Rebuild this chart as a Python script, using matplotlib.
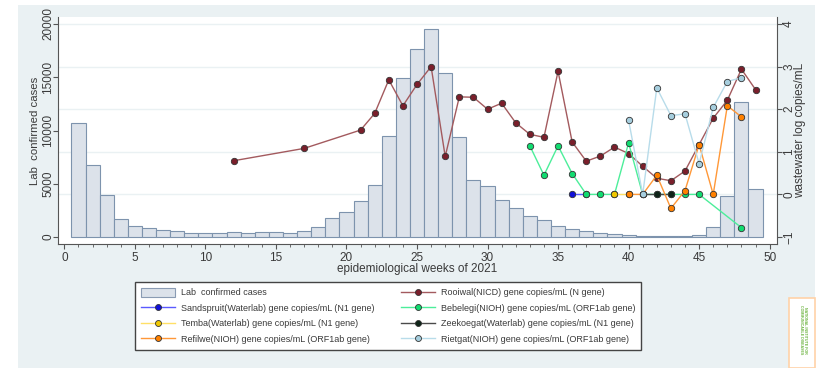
import matplotlib
matplotlib.use("Agg")
import matplotlib.pyplot as plt
from matplotlib import font_manager
from matplotlib.lines import Line2D
from matplotlib.patches import Rectangle, Patch

# ---- data -------------------------------------------------------------
weeks = list(range(1, 50))
cases = [10700, 6800, 3900, 1700, 1060, 850, 660, 560, 410, 380,
         380, 440, 380, 440, 470, 400, 530, 940, 1750, 2350,
         3350, 4850, 9480, 14900, 17650, 19550, 15400, 9400, 5320, 4760,
         3470, 2690, 1970, 1640, 1030, 720, 590, 410, 250, 160,
         95, 60, 60, 90, 160, 910, 3850, 12650, 4480]

rooiwal_wk = [12, 17, 21, 22, 23, 24, 25, 26, 27, 28, 29, 30, 31, 32, 33,
              34, 35, 36, 37, 38, 39, 40, 41, 42, 43, 44, 45, 46, 47, 48, 49]
rooiwal = [0.79, 1.08, 1.51, 1.90, 2.69, 2.08, 2.58, 3.00, 0.89, 2.29, 2.28,
           2.00, 2.14, 1.68, 1.41, 1.34, 2.89, 1.23, 0.78, 0.90, 1.11, 0.96,
           0.66, 0.38, 0.32, 0.55, 1.17, 1.79, 2.21, 2.94, 2.46]

sandspruit_wk = [36, 37]
sandspruit = [0.0, 0.0]

bebelegi_wk = [33, 34, 35, 36, 37, 38, 39, 40, 41, 42, 43, 44, 45, 48]
bebelegi = [1.14, 0.45, 1.14, 0.49, 0.0, 0.0, 0.0, 1.21, 0.0, 0.0, 0.0,
            0.0, 0.0, -0.78]

temba_wk = [39, 40]
temba = [0.0, 0.0]

zeekoegat_wk = [41, 42, 43]
zeekoegat = [0.0, 0.0, 0.0]

refilwe_wk = [40, 41, 42, 43, 44, 45, 46, 47, 48]
refilwe = [0.0, 0.0, 0.45, -0.33, 0.09, 1.17, 0.0, 2.08, 1.82]

rietgat_wk = [40, 41, 42, 43, 44, 45, 46, 47, 48]
rietgat = [1.74, 0.0, 2.50, 1.85, 1.89, 0.72, 2.04, 2.65, 2.74]

series = [
    ("Rooiwal(NICD) gene copies/mL (N gene)", rooiwal_wk, rooiwal,
     "#a35a5e", "#7a1f2b"),
    ("Sandspruit(Waterlab) gene copies/mL (N1 gene)", sandspruit_wk, sandspruit,
     "#5a5aff", "#1010d8"),
    ("Bebelegi(NIOH) gene copies/mL (ORF1ab gene)", bebelegi_wk, bebelegi,
     "#4cee9a", "#10dc70"),
    ("Temba(Waterlab) gene copies/mL (N1 gene)", temba_wk, temba,
     "#ffe066", "#f0c800"),
    ("Zeekoegat(Waterlab) gene copies/mL (N1 gene)", zeekoegat_wk, zeekoegat,
     "#4a4a4a", "#0e2418"),
    ("Refilwe(NIOH) gene copies/mL (ORF1ab gene)", refilwe_wk, refilwe,
     "#ff9838", "#ff8000"),
    ("Rietgat(NIOH) gene copies/mL (ORF1ab gene)", rietgat_wk, rietgat,
     "#b8dcea", "#a6cede"),
]

# ---- fonts ------------------------------------------------------------
installed = {f.name for f in font_manager.fontManager.ttflist}
narrow = "Liberation Sans Narrow" if "Liberation Sans Narrow" in installed else "Liberation Sans"
plt.rcParams["font.family"] = [narrow, "DejaVu Sans"]

TXT = "#3a3a3a"
BG = "#eaf1f3"
AXC = "#555555"

fig = plt.figure(figsize=(8.2, 3.68), dpi=100, facecolor="white")
fig.patches.append(Rectangle((18 / 820, 0), (815 - 18) / 820, 1 - 5 / 368,
                             transform=fig.transFigure, facecolor=BG,
                             edgecolor="none", zorder=-10))

ax = fig.add_axes([58 / 820, 1 - 244 / 368, (776.7 - 58) / 820, (244 - 17) / 368])
ax.set_facecolor("white")

ymin, ymax = -657, 20657
ax.set_xlim(-0.45, 50.5)
ax.set_ylim(ymin, ymax)

# gridlines follow the right-hand (log copies) axis
for v in [0, 1, 2, 3, 4]:
    ax.axhline((v + 1) * 4000, color=BG, lw=1.0, zorder=0)

ax.bar(weeks, cases, width=1.0, color="#dce2ea", edgecolor="#7d93ad",
       linewidth=0.8, zorder=2)

ax.set_xticks(range(0, 51, 5))
ax.set_xticks(range(0, 51, 1), minor=True)
ax.set_yticks(range(0, 20001, 5000))
ax.tick_params(axis="x", which="major", length=3.6, width=0.8, color=AXC,
               labelsize=8.5, labelcolor=TXT, pad=2)
ax.tick_params(axis="x", which="minor", length=2.0, width=0.6, color=AXC)
ax.tick_params(axis="y", which="major", length=3.6, width=0.8, color=AXC,
               labelsize=8.5, labelcolor=TXT, pad=-0.8, labelrotation=90)
for t in ax.get_yticklabels():
    t.set_va("center")

for side in ["top", "right"]:
    ax.spines[side].set_visible(False)
for side in ["left", "bottom"]:
    ax.spines[side].set_color(AXC)
    ax.spines[side].set_linewidth(0.8)

ax.set_ylabel("Lab  confirmed cases", fontsize=8.2, color=TXT)
ax.yaxis.set_label_coords(-0.025, 0.5)
ax.set_xlabel("epidemiological weeks of 2021", fontsize=8.5, color=TXT)
ax.xaxis.set_label_coords(0.5, -0.082)

ax2 = ax.twinx()
ax2.set_ylim(ymin / 4000 - 1, ymax / 4000 - 1)
ax2.set_yticks([-1, 0, 1, 2, 3, 4])
ax2.tick_params(axis="y", length=3.6, width=0.8, color=AXC, labelsize=8.5,
                labelcolor=TXT, pad=1, labelrotation=90)
for t in ax2.get_yticklabels():
    t.set_va("center")
for side in ["top", "left", "bottom"]:
    ax2.spines[side].set_visible(False)
ax2.spines["right"].set_color(AXC)
ax2.spines["right"].set_linewidth(0.8)
ax2.set_ylabel("wastewater log copies/mL", fontsize=8.5, color=TXT, rotation=90)
ax2.yaxis.set_label_coords(1.0234, 0.5)

handles = [Patch(facecolor="#dce2ea", edgecolor="#8a9bb3", linewidth=0.8,
                 label="Lab  confirmed cases")]
line_handles = {}
for name, wk, vals, lc, mc in series:
    ax2.plot(wk, vals, color=lc, lw=1.0, marker="o", markersize=4.6,
             markerfacecolor=mc, markeredgecolor="#333333",
             markeredgewidth=0.6, zorder=3)
    line_handles[name] = Line2D([], [], color=lc, lw=1.0, marker="o",
                                markersize=4.3, markerfacecolor=mc,
                                markeredgecolor="#333333",
                                markeredgewidth=0.6, label=name)

names = [s[0] for s in series]
col1 = [handles[0], line_handles[names[1]], line_handles[names[3]],
        line_handles[names[5]]]
col2 = [line_handles[names[0]], line_handles[names[2]],
        line_handles[names[4]], line_handles[names[6]]]
leg = fig.legend(handles=col1 + col2, ncol=2, loc="upper left",
                 bbox_to_anchor=(135 / 820, 1 - 282 / 368),
                 fontsize=6.5, frameon=True, fancybox=False,
                 edgecolor="#444444", facecolor="white", framealpha=1,
                 handlelength=3.77, handleheight=1.1, handletextpad=0.66,
                 labelspacing=0.67, borderpad=0.67, borderaxespad=0,
                 columnspacing=2.9)
leg.get_frame().set_linewidth(1.0)
for t in leg.get_texts():
    t.set_color(TXT)

# institute badge in the lower right corner
fig.patches.append(Rectangle((789 / 820, 0.0), 26 / 820, 70 / 368,
                             transform=fig.transFigure, facecolor="white",
                             edgecolor="#ffd2a8", linewidth=1.2, zorder=5))
fig.text(803 / 820, 38 / 368, "NATIONAL INSTITUTE FOR\nCOMMUNICABLE DISEASES",
         rotation=-90, fontsize=2.6, color="#6cb33f", ha="center",
         va="center", fontweight="bold", zorder=6)

fig.savefig("out.png", dpi=100, facecolor=fig.get_facecolor())
